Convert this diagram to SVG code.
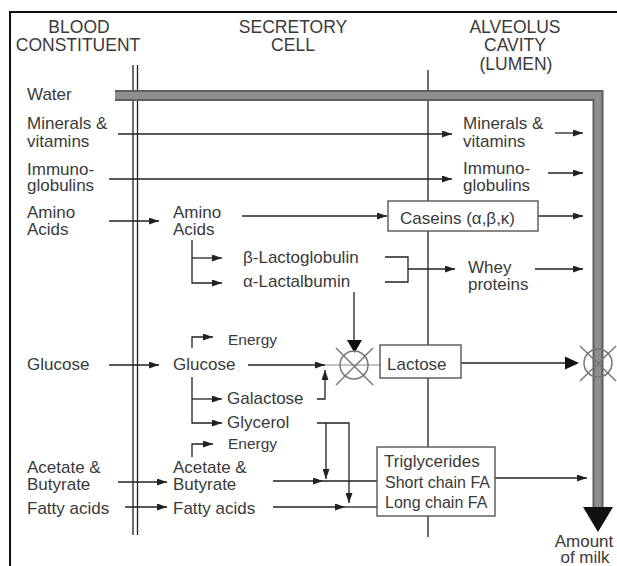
<svg xmlns="http://www.w3.org/2000/svg" width="617" height="566" viewBox="0 0 617 566">
<style>
text{font-family:"Liberation Sans",Arial,sans-serif;font-size:17px;fill:#3a3a3a}
.h{font-size:17.5px;text-anchor:middle}
.s{font-size:15.5px}
.t{font-size:16px}
.ln{fill:none;stroke:#222;stroke-width:1.3}
.lg{fill:none;stroke:#888;stroke-width:1.2}
.box{fill:#fff;stroke:#555;stroke-width:1.4}
.x{fill:none;stroke:#777;stroke-width:1.5}
</style>
<defs>
<marker id="a" markerUnits="userSpaceOnUse" markerWidth="10" markerHeight="7" refX="10" refY="3.5" orient="auto">
<path d="M0,0 L10,3.5 L0,7 z" fill="#222"/>
</marker>
</defs>
<rect width="617" height="566" fill="#fff"/>
<rect x="10" y="12" width="700" height="700" fill="none" stroke="#111" stroke-width="2"/>

<g id="headers">
<text class="h" x="79" y="33">BLOOD</text>
<text class="h" x="78" y="51">CONSTITUENT</text>
<text class="h" x="293" y="33">SECRETORY</text>
<text class="h" x="293" y="51">CELL</text>
<text class="h" x="515" y="33">ALVEOLUS</text>
<text class="h" x="515" y="51">CAVITY</text>
<text class="h" x="516" y="70">(LUMEN)</text>
</g>

<g id="membranes">
<line class="ln" x1="133" y1="65" x2="133" y2="535"/>
<line class="ln" x1="137.5" y1="65" x2="137.5" y2="535"/>
<line class="ln" x1="428" y1="70" x2="428" y2="537"/>
</g>

<g id="water-flow">
<path d="M115,95.5 H598 V508" fill="none" stroke="#5e5e5e" stroke-width="11"/>
<path d="M115,95.5 H598 V508" fill="none" stroke="#8e8e8e" stroke-width="7"/>
<polygon points="583,507 613,507 598,532" fill="#111"/>
</g>

<g id="connectors">
<line class="ln" x1="118" y1="134" x2="452" y2="134" marker-end="url(#a)"/>
<line class="ln" x1="555" y1="133" x2="583" y2="133" marker-end="url(#a)"/>
<line class="ln" x1="109" y1="179" x2="452" y2="179" marker-end="url(#a)"/>
<line class="ln" x1="548" y1="173" x2="583" y2="173" marker-end="url(#a)"/>
<line class="ln" x1="109" y1="221" x2="159" y2="221" marker-end="url(#a)"/>
<line class="ln" x1="242" y1="216" x2="387" y2="216" marker-end="url(#a)"/>
<line class="ln" x1="538" y1="216" x2="583" y2="216" marker-end="url(#a)"/>
<path class="ln" d="M192,240 V283 H222" marker-end="url(#a)"/>
<line class="ln" x1="192" y1="258" x2="222" y2="258" marker-end="url(#a)"/>
<path class="ln" d="M385,257 H408 V282 H385"/>
<line class="ln" x1="408" y1="269" x2="455" y2="269" marker-end="url(#a)"/>
<line class="ln" x1="535" y1="269" x2="583" y2="269" marker-end="url(#a)"/>
<line class="ln" x1="354" y1="292" x2="354" y2="341"/>
<polygon points="347,340 362,340 354.5,353" fill="#111"/>
<path class="ln" d="M192,348 V337 H213" marker-end="url(#a)"/>
<line class="ln" x1="109" y1="365" x2="159" y2="365" marker-end="url(#a)"/>
<line class="ln" x1="248" y1="365" x2="325" y2="365" marker-end="url(#a)"/>
<line class="lg" x1="325" y1="365" x2="380" y2="365"/>
<path class="ln" d="M317,399 H325 V370" marker-end="url(#a)"/>
<path class="ln" d="M192,377 V423 H222" marker-end="url(#a)"/>
<line class="ln" x1="192" y1="399" x2="222" y2="399" marker-end="url(#a)"/>
<line class="ln" x1="461" y1="363" x2="566" y2="363"/>
<polygon points="565,356.5 579,363 565,369.5" fill="#111"/>
<path class="ln" d="M192,457 V444 H213" marker-end="url(#a)"/>
<line class="ln" x1="118" y1="482" x2="167" y2="482" marker-end="url(#a)"/>
<line class="ln" x1="125" y1="507" x2="167" y2="507" marker-end="url(#a)"/>
<line class="ln" x1="273" y1="481" x2="323" y2="481" marker-end="url(#a)"/>
<line class="ln" x1="323" y1="481" x2="377" y2="481"/>
<line class="ln" x1="273" y1="507" x2="345" y2="507" marker-end="url(#a)"/>
<line class="ln" x1="345" y1="507" x2="377" y2="507"/>
<path class="ln" d="M317,423 H349 V503" marker-end="url(#a)"/>
<line class="ln" x1="326" y1="423" x2="326" y2="479" marker-end="url(#a)"/>
<line class="ln" x1="495" y1="478" x2="587" y2="478" marker-end="url(#a)"/>
</g>

<g id="blood-water"><text x="27" y="100">Water</text></g>
<g id="blood-minerals"><text x="27" y="129">Minerals &amp;</text><text x="27" y="147">vitamins</text></g>
<g id="blood-immuno"><text x="27" y="175">Immuno-</text><text x="27" y="191">globulins</text></g>
<g id="blood-amino"><text x="27" y="218">Amino</text><text x="27" y="235">Acids</text></g>
<g id="blood-glucose"><text x="27" y="370">Glucose</text></g>
<g id="blood-acetate"><text x="27" y="473">Acetate &amp;</text><text x="27" y="490">Butyrate</text></g>
<g id="blood-fatty"><text x="27" y="514">Fatty acids</text></g>

<g id="cell-amino"><text x="173" y="218">Amino</text><text x="173" y="235">Acids</text></g>
<g id="cell-blg"><text x="243" y="263">β-Lactoglobulin</text></g>
<g id="cell-ala"><text x="243" y="287">α-Lactalbumin</text></g>
<g id="cell-energy1"><text class="s" x="228" y="345">Energy</text></g>
<g id="cell-glucose"><text x="173" y="370">Glucose</text></g>
<g id="cell-galactose"><text x="227" y="404">Galactose</text></g>
<g id="cell-glycerol"><text x="227" y="428">Glycerol</text></g>
<g id="cell-energy2"><text class="s" x="228" y="449">Energy</text></g>
<g id="cell-acetate"><text x="173" y="473">Acetate &amp;</text><text x="173" y="490">Butyrate</text></g>
<g id="cell-fatty"><text x="173" y="514">Fatty acids</text></g>

<g id="enzyme1">
<circle class="x" cx="354" cy="365" r="14"/>
<line class="x" x1="336" y1="348" x2="373" y2="385"/>
<line class="x" x1="373" y1="348" x2="336" y2="385"/>
</g>
<g id="enzyme2">
<circle class="x" cx="598" cy="363" r="14"/>
<line class="x" x1="580" y1="346" x2="616" y2="381"/>
<line class="x" x1="616" y1="346" x2="580" y2="381"/>
</g>

<g id="caseins"><rect class="box" x="388" y="201" width="150" height="30"/><text x="400" y="224">Caseins (α,β,κ)</text></g>
<g id="lactose"><rect class="box" x="380" y="345" width="81" height="33"/><text x="387" y="370">Lactose</text></g>
<g id="triglycerides"><rect class="box" x="377" y="447" width="118" height="69"/>
<text x="384" y="467">Triglycerides</text>
<text class="t" x="385" y="488">Short chain FA</text>
<text class="t" x="385" y="508">Long chain FA</text></g>

<g id="lumen-minerals"><text x="463" y="129">Minerals &amp;</text><text x="463" y="147">vitamins</text></g>
<g id="lumen-immuno"><text x="463" y="174">Immuno-</text><text x="463" y="191">globulins</text></g>
<g id="lumen-whey"><text x="468" y="273">Whey</text><text x="468" y="290">proteins</text></g>
<g id="milk"><text x="584" y="547" text-anchor="middle">Amount</text><text x="585" y="563" text-anchor="middle">of milk</text></g>
</svg>
